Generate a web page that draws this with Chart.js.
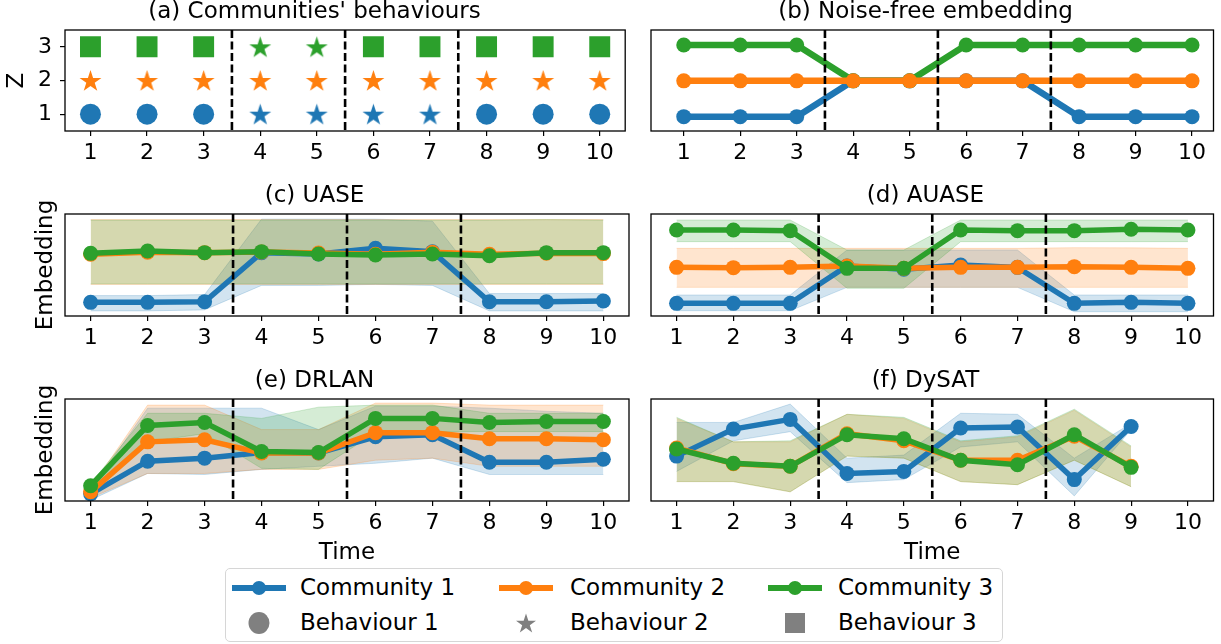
<!DOCTYPE html>
<html>
<head>
<meta charset="utf-8">
<script src="https://cdn.jsdelivr.net/npm/chart.js@4.4.1/dist/chart.umd.min.js"></script>
<style>
  body { margin: 0; background: #fff; width: 1221px; height: 644px; position: relative; overflow: hidden; font-family: "DejaVu Sans", sans-serif; }
  canvas { position: absolute; }
  #legend { position: absolute; left: 225px; top: 568px; width: 776px; height: 72px; border: 1.5px solid #d6d6d6; border-radius: 5px; background: #fff; z-index: 2; }
  .lg-item { position: absolute; font-size: 23px; line-height: 28px; color: #000; white-space: nowrap; }
  .lg-mark { position: absolute; }
</style>
</head>
<body>
<canvas id="panelA"></canvas>
<canvas id="panelB"></canvas>
<canvas id="panelC"></canvas>
<canvas id="panelD"></canvas>
<canvas id="panelE"></canvas>
<canvas id="panelF"></canvas>
<div id="legend"></div>
<script>
// ---- data ----
const times = [1, 2, 3, 4, 5, 6, 7, 8, 9, 10];
const xTicks = [1, 2, 3, 4, 5, 6, 7, 8, 9, 10];
const changePoints = [3.5, 5.5, 7.5];
const communityNames = ['Community 1', 'Community 2', 'Community 3'];
const behaviourNames = ['Behaviour 1', 'Behaviour 2', 'Behaviour 3'];

// (a) Z level of each community and its behaviour at each time (1 circle, 2 star, 3 square)
const zLevels = [1, 2, 3];
const zTicks = [1, 2, 3];
const behaviourC1 = [1, 1, 1, 2, 2, 2, 2, 1, 1, 1];
const behaviourC2 = [2, 2, 2, 2, 2, 2, 2, 2, 2, 2];
const behaviourC3 = [3, 3, 3, 2, 2, 3, 3, 3, 3, 3];

// (b) noise-free embedding
const noiseFreeC1 = [1, 1, 1, 2, 2, 2, 2, 1, 1, 1];
const noiseFreeC2 = [2, 2, 2, 2, 2, 2, 2, 2, 2, 2];
const noiseFreeC3 = [3, 3, 3, 2, 2, 3, 3, 3, 3, 3];

// (c) UASE: mean, upper and lower band
const uaseC1 = [0.134, 0.134, 0.140, 0.620, 0.608, 0.663, 0.630, 0.140, 0.140, 0.147];
const uaseC1Hi = [0.20, 0.20, 0.21, 0.95, 0.95, 0.95, 0.93, 0.22, 0.22, 0.22];
const uaseC1Lo = [0.05, 0.05, 0.06, 0.30, 0.30, 0.31, 0.30, 0.05, 0.05, 0.05];
const uaseC2 = [0.605, 0.625, 0.621, 0.628, 0.617, 0.605, 0.625, 0.605, 0.615, 0.612];
const uaseC2Hi = [0.945, 0.945, 0.945, 0.945, 0.945, 0.945, 0.945, 0.945, 0.945, 0.945];
const uaseC2Lo = [0.31, 0.31, 0.31, 0.31, 0.31, 0.31, 0.31, 0.31, 0.31, 0.31];
const uaseC3 = [0.614, 0.637, 0.621, 0.631, 0.608, 0.598, 0.608, 0.590, 0.621, 0.621];
const uaseC3Hi = [0.94, 0.94, 0.94, 0.94, 0.94, 0.94, 0.94, 0.94, 0.945, 0.94];
const uaseC3Lo = [0.315, 0.315, 0.315, 0.315, 0.315, 0.315, 0.315, 0.315, 0.315, 0.315];

// (d) AUASE
const auaseC1 = [0.124, 0.124, 0.124, 0.490, 0.458, 0.500, 0.477, 0.124, 0.134, 0.124];
const auaseC1Hi = [0.206, 0.206, 0.206, 0.647, 0.647, 0.647, 0.647, 0.206, 0.206, 0.206];
const auaseC1Lo = [0.052, 0.052, 0.052, 0.281, 0.281, 0.281, 0.281, 0.042, 0.042, 0.042];
const auaseC2 = [0.477, 0.474, 0.477, 0.490, 0.467, 0.477, 0.477, 0.484, 0.477, 0.467];
const auaseC2Hi = [0.663, 0.663, 0.663, 0.663, 0.663, 0.663, 0.663, 0.670, 0.668, 0.663];
const auaseC2Lo = [0.281, 0.281, 0.281, 0.281, 0.281, 0.281, 0.281, 0.281, 0.281, 0.281];
const auaseC3 = [0.843, 0.843, 0.837, 0.467, 0.467, 0.843, 0.837, 0.837, 0.850, 0.843];
const auaseC3Hi = [0.941, 0.941, 0.941, 0.647, 0.647, 0.941, 0.941, 0.941, 0.941, 0.941];
const auaseC3Lo = [0.729, 0.729, 0.729, 0.271, 0.271, 0.729, 0.729, 0.729, 0.729, 0.729];

// (e) DRLAN
const drlanC1 = [0.07, 0.39, 0.42, 0.475, 0.47, 0.63, 0.65, 0.38, 0.38, 0.41];
const drlanC1Hi = [0.11, 0.91, 0.91, 0.91, 0.70, 0.93, 0.93, 0.91, 0.88, 0.86];
const drlanC1Lo = [0.01, 0.27, 0.26, 0.31, 0.34, 0.37, 0.42, 0.26, 0.26, 0.26];
const drlanC2 = [0.09, 0.58, 0.60, 0.47, 0.47, 0.67, 0.67, 0.61, 0.61, 0.60];
const drlanC2Hi = [0.13, 0.94, 0.94, 0.70, 0.70, 0.96, 0.96, 0.94, 0.94, 0.94];
const drlanC2Lo = [0.03, 0.27, 0.27, 0.31, 0.31, 0.40, 0.42, 0.34, 0.34, 0.34];
const drlanC3 = [0.15, 0.74, 0.77, 0.485, 0.475, 0.81, 0.81, 0.77, 0.78, 0.78];
const drlanC3Hi = [0.17, 0.86, 0.86, 0.81, 0.92, 0.94, 0.94, 0.86, 0.86, 0.86];
const drlanC3Lo = [0.13, 0.58, 0.66, 0.32, 0.31, 0.67, 0.68, 0.68, 0.68, 0.68];

// (f) DySAT (no value at time 10)
const dysatC1 = [0.44, 0.705, 0.80, 0.27, 0.29, 0.715, 0.725, 0.21, 0.73];
const dysatC1Hi = [0.77, 0.77, 0.95, 0.42, 0.45, 0.86, 0.85, 0.42, 0.76];
const dysatC1Lo = [0.29, 0.59, 0.68, 0.18, 0.21, 0.53, 0.58, 0.05, 0.70];
const dysatC2 = [0.52, 0.365, 0.34, 0.66, 0.59, 0.40, 0.40, 0.635, 0.34];
const dysatC2Hi = [0.81, 0.58, 0.58, 0.85, 0.81, 0.58, 0.63, 0.89, 0.53];
const dysatC2Lo = [0.19, 0.19, 0.09, 0.44, 0.42, 0.19, 0.16, 0.40, 0.14];
const dysatC3 = [0.51, 0.37, 0.34, 0.65, 0.61, 0.40, 0.355, 0.65, 0.33];
const dysatC3Hi = [0.82, 0.58, 0.59, 0.85, 0.82, 0.59, 0.64, 0.90, 0.54];
const dysatC3Lo = [0.19, 0.19, 0.09, 0.44, 0.42, 0.19, 0.16, 0.40, 0.14];

// ---- style ----
const colors = ['#1f77b4', '#ff7f0e', '#2ca02c'];
const bandColors = ['rgba(31,119,180,0.2)', 'rgba(255,127,14,0.2)', 'rgba(44,160,44,0.2)'];
Chart.defaults.font.family = 'DejaVu Sans';
Chart.defaults.color = '#000';

function toPoints(values) {
    return values.map((v, i) => ({ x: times[i], y: v }));
}

// filled 5-point star like matplotlib '*'
function starCanvas(radius, color) {
    const s = Math.ceil(radius * 2 + 2);
    const c = document.createElement('canvas');
    c.width = s; c.height = s;
    const g = c.getContext('2d');
    g.fillStyle = color;
    g.beginPath();
    for (let k = 0; k < 10; k++) {
        const r = k % 2 === 0 ? radius : radius * 0.382;
        const a = -Math.PI / 2 + k * Math.PI / 5;
        g.lineTo(s / 2 + r * Math.cos(a), s / 2 + 1 + r * Math.sin(a));
    }
    g.closePath();
    g.fill();
    return c;
}

// dashed change-point lines and the box around each axes
const framePlugin = {
    id: 'frame',
    afterDatasetsDraw(chart) {
        const { ctx, chartArea, scales } = chart;
        ctx.save();
        ctx.strokeStyle = '#000';
        ctx.lineWidth = 2.6;
        ctx.setLineDash([8, 3.5]);
        changePoints.forEach((v) => {
            const px = scales.x.getPixelForValue(v);
            ctx.beginPath();
            ctx.moveTo(px, chartArea.top);
            ctx.lineTo(px, chartArea.bottom);
            ctx.stroke();
        });
        ctx.setLineDash([]);
        ctx.lineWidth = 1.3;
        ctx.strokeRect(chartArea.left, chartArea.top, chartArea.right - chartArea.left, chartArea.bottom - chartArea.top);
        ctx.restore();
    },
};

// panel boxes: canvas position, y-axis width, x-axis height, right padding
const panels = {
    panelA: { left: 0, top: 0, width: 640, height: 175, yW: 65, xH: 44, padR: 11 },
    panelB: { left: 636, top: 0, width: 585, height: 175, yW: 15, xH: 44, padR: 6 },
    panelC: { left: 0, top: 184, width: 640, height: 176, yW: 65, xH: 44, padR: 11 },
    panelD: { left: 636, top: 184, width: 585, height: 176, yW: 15, xH: 44, padR: 6 },
    panelE: { left: 0, top: 369, width: 640, height: 201, yW: 65, xH: 69, padR: 11 },
    panelF: { left: 636, top: 369, width: 585, height: 201, yW: 15, xH: 69, padR: 6 },
};

function makeChart(id, title, datasets, cfg) {
    const box = panels[id];
    const canvas = document.getElementById(id);
    canvas.width = box.width;
    canvas.height = box.height;
    canvas.style.left = box.left + 'px';
    canvas.style.top = box.top + 'px';
    return new Chart(canvas.getContext('2d'), {
        type: 'line',
        data: { datasets: datasets },
        options: {
            responsive: false,
            animation: false,
            layout: { padding: { left: 0, right: box.padR, top: 0, bottom: 0 } },
            plugins: {
                legend: { display: false },
                tooltip: { enabled: false },
                title: {
                    display: true,
                    text: title,
                    color: '#000',
                    font: { size: 23, weight: 'normal', lineHeight: 1 },
                    padding: { top: 1, bottom: 6 },
                },
            },
            scales: {
                x: {
                    type: 'linear',
                    min: cfg.xMin || 0.55,
                    max: cfg.xMax || 10.45,
                    afterBuildTicks: (s) => { s.ticks = xTicks.map((v) => ({ value: v })); },
                    afterFit: (s) => { s.height = box.xH; },
                    border: { display: false },
                    grid: { drawOnChartArea: false, drawTicks: true, tickLength: 5, color: '#000', lineWidth: 1.2 },
                    ticks: { font: { size: 22 }, padding: 4, maxRotation: 0, autoSkip: false },
                    title: {
                        display: !!cfg.xTitle,
                        text: cfg.xTitle || '',
                        font: { size: 23 },
                        padding: { top: 0, bottom: 3 },
                    },
                },
                y: {
                    type: 'linear',
                    min: cfg.yMin,
                    max: cfg.yMax,
                    afterBuildTicks: (s) => { s.ticks = (cfg.yTicks || []).map((v) => ({ value: v })); },
                    afterFit: (s) => { s.width = box.yW; },
                    border: { display: false },
                    grid: { display: !!cfg.yTicks, drawOnChartArea: false, drawTicks: true, tickLength: 5, color: '#000', lineWidth: 1.2 },
                    ticks: { display: !!cfg.yTicks, font: { size: 22 }, padding: 8 },
                    title: {
                        display: !!cfg.yTitle,
                        text: cfg.yTitle || '',
                        font: { size: 23 },
                        padding: { top: cfg.yTitlePad || 3, bottom: 0 },
                    },
                },
            },
        },
        plugins: [framePlugin],
    });
}

function meanLine(values, k, order, width) {
    return {
        data: toPoints(values),
        borderColor: colors[k],
        backgroundColor: colors[k],
        borderWidth: width,
        pointRadius: 7.5,
        pointBorderWidth: 0,
        pointBackgroundColor: colors[k],
        tension: 0,
        fill: false,
        order: order,
    };
}

function bandPair(hi, lo, k) {
    const edge = { borderColor: bandColors[k], borderWidth: 1, pointRadius: 0, tension: 0, order: 12 - k };
    return [
        Object.assign({ data: toPoints(hi), fill: '+1', backgroundColor: bandColors[k] }, edge),
        Object.assign({ data: toPoints(lo), fill: false, backgroundColor: bandColors[k] }, edge),
    ];
}

function methodPanel(id, title, series, extra) {
    const ds = [];
    series.forEach((s, k) => { ds.push(...bandPair(s.hi, s.lo, k)); });
    series.forEach((s, k) => { ds.push(meanLine(s.mean, k, 2 - k, 5.5)); });
    return makeChart(id, title, ds, Object.assign({ yMin: 0, yMax: 1 }, extra));
}

// (a) behaviours
const starBig = colors.map((c) => starCanvas(11.5, c));
const behaviourSets = [behaviourC1, behaviourC2, behaviourC3];
const scatterSets = behaviourSets.map((beh, k) => ({
    data: beh.map((b, i) => ({ x: times[i], y: zLevels[k] })),
    showLine: false,
    pointStyle: beh.map((b) => (b === 1 ? 'circle' : b === 2 ? starBig[k] : 'rect')),
    pointRadius: beh.map((b) => (b === 1 ? 10.5 : b === 2 ? 11 : 14.8)),
    pointBorderWidth: 0,
    pointBackgroundColor: colors[k],
    borderColor: colors[k],
}));
makeChart('panelA', "(a) Communities' behaviours", scatterSets,
    { yMin: 0.5, yMax: 3.5, yTicks: zTicks, yTitle: 'Z', yTitlePad: 3 });

// (b) noise-free
const noiseFree = [noiseFreeC1, noiseFreeC2, noiseFreeC3];
const orderB = [2, 0, 1];
makeChart('panelB', '(b) Noise-free embedding',
    noiseFree.map((v, k) => meanLine(v, k, orderB[k], 6.5)),
    { yMin: 0.6, yMax: 3.42, xMin: 0.42, xMax: 10.38 });

methodPanel('panelC', '(c) UASE', [
    { mean: uaseC1, hi: uaseC1Hi, lo: uaseC1Lo },
    { mean: uaseC2, hi: uaseC2Hi, lo: uaseC2Lo },
    { mean: uaseC3, hi: uaseC3Hi, lo: uaseC3Lo },
], { yTitle: 'Embedding', yTitlePad: 32 });

methodPanel('panelD', '(d) AUASE', [
    { mean: auaseC1, hi: auaseC1Hi, lo: auaseC1Lo },
    { mean: auaseC2, hi: auaseC2Hi, lo: auaseC2Lo },
    { mean: auaseC3, hi: auaseC3Hi, lo: auaseC3Lo },
], {});

methodPanel('panelE', '(e) DRLAN', [
    { mean: drlanC1, hi: drlanC1Hi, lo: drlanC1Lo },
    { mean: drlanC2, hi: drlanC2Hi, lo: drlanC2Lo },
    { mean: drlanC3, hi: drlanC3Hi, lo: drlanC3Lo },
], { yTitle: 'Embedding', yTitlePad: 32, xTitle: 'Time' });

methodPanel('panelF', '(f) DySAT', [
    { mean: dysatC1, hi: dysatC1Hi, lo: dysatC1Lo },
    { mean: dysatC2, hi: dysatC2Hi, lo: dysatC2Lo },
    { mean: dysatC3, hi: dysatC3Hi, lo: dysatC3Lo },
], { xTitle: 'Time' });

// ---- shared legend ----
const legend = document.getElementById('legend');
const legendLeft = 225, legendTop = 568;
const colMark = [258, 525, 794];
const colText = [299, 569, 837];
const rowY = [587, 622];

function starPath(cx, cy, r) {
    const pts = [];
    for (let k = 0; k < 10; k++) {
        const rr = k % 2 === 0 ? r : r * 0.382;
        const a = -Math.PI / 2 + k * Math.PI / 5;
        pts.push((cx + rr * Math.cos(a)).toFixed(2) + ',' + (cy + 1 + rr * Math.sin(a)).toFixed(2));
    }
    return pts.join(' ');
}

function addItem(html, x, y, w, h) {
    const el = document.createElement('div');
    el.className = 'lg-mark';
    el.style.left = (x - legendLeft - w / 2) + 'px';
    el.style.top = (y - legendTop - h / 2) + 'px';
    el.innerHTML = html;
    legend.appendChild(el);
}

function addText(text, x, y) {
    const el = document.createElement('div');
    el.className = 'lg-item';
    el.textContent = text;
    el.style.left = (x - legendLeft) + 'px';
    el.style.top = (y - legendTop - 15) + 'px';
    legend.appendChild(el);
}

communityNames.forEach((name, k) => {
    addItem('<svg width="54" height="20"><line x1="0" y1="10" x2="54" y2="10" stroke="' + colors[k] +
        '" stroke-width="6"/><circle cx="27" cy="10" r="7" fill="' + colors[k] + '"/></svg>', colMark[k], rowY[0], 54, 20);
    addText(name, colText[k], rowY[0]);
});
const markerSvgs = [
    '<svg width="24" height="24"><ellipse cx="12" cy="12" rx="10.5" ry="11" fill="#808080"/></svg>',
    '<svg width="24" height="24"><polygon points="' + starPath(12, 12, 10.5) + '" fill="#808080"/></svg>',
    '<svg width="24" height="24"><rect x="2" y="2" width="20" height="20" fill="#808080"/></svg>',
];
behaviourNames.forEach((name, k) => {
    addItem(markerSvgs[k], colMark[k], rowY[1], 24, 24);
    addText(name, colText[k], rowY[1]);
});
</script>
</body>
</html>
